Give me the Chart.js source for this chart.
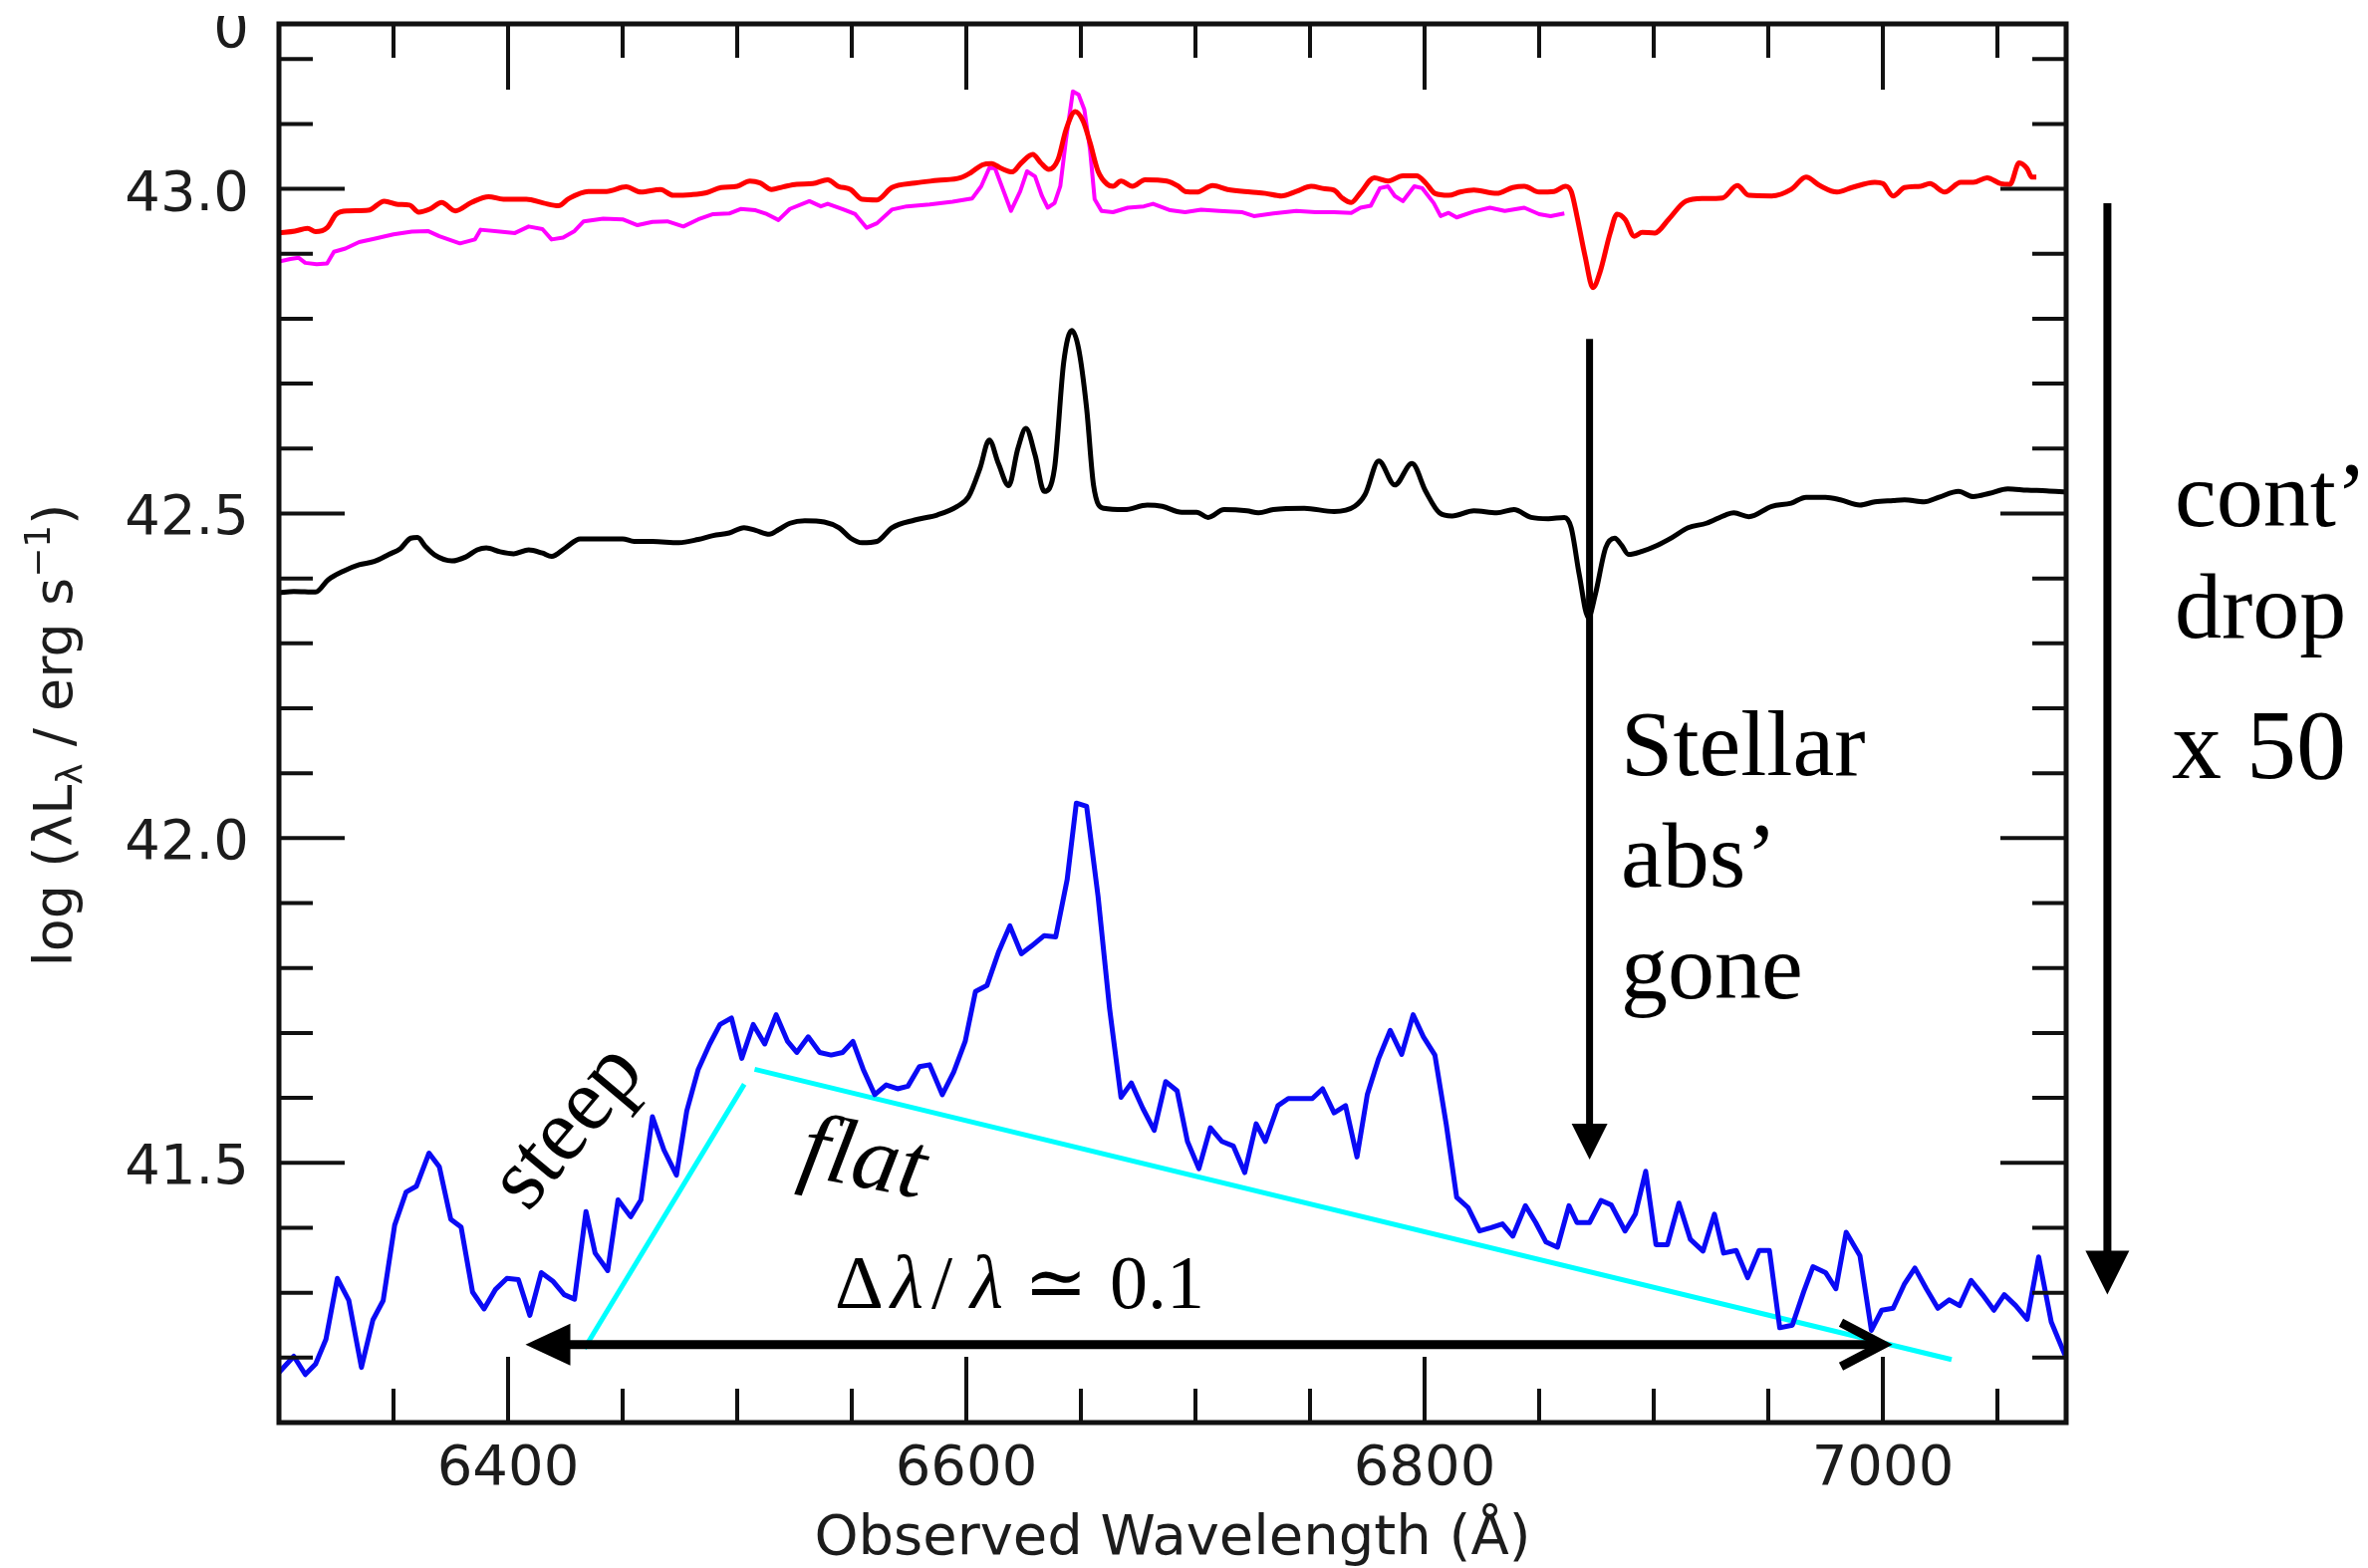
<!DOCTYPE html>
<html>
<head>
<meta charset="utf-8">
<title>Observed spectrum</title>
<script src="https://cdn.jsdelivr.net/npm/chart.js@4.4.1/dist/chart.umd.min.js"></script>
<style>
  html, body { margin: 0; padding: 0; background: #fff; }
  canvas { display: block; }
</style>
</head>
<body>
<canvas id="spectrum" width="2377" height="1574"></canvas>
<script>
// high state spectrum (red)
const redWave = [6300, 6307, 6312.5, 6316, 6321, 6325, 6330, 6339, 6346, 6352, 6357, 6361, 6366, 6371, 6377, 6384, 6391.5, 6398, 6408, 6415.5, 6422, 6426.5, 6435, 6443, 6451.5, 6458, 6466.5, 6472, 6480, 6486.5, 6493, 6500, 6505.5, 6510, 6515, 6520, 6526, 6533, 6539.5, 6544, 6549.5, 6554.5, 6561, 6567.5, 6577.5, 6587.5, 6597.5, 6602, 6607, 6611, 6615, 6620, 6624, 6629, 6632.5, 6636, 6640, 6643.5, 6647.5, 6651, 6654, 6657.5, 6661.5, 6664, 6667.5, 6672.5, 6678, 6687.5, 6692.5, 6695.5, 6700.5, 6707.5, 6714, 6724, 6730.5, 6737.5, 6744, 6750.5, 6756.5, 6760.5, 6764, 6768, 6772, 6778, 6784, 6790.5, 6796.5, 6800.5, 6804.5, 6810.5, 6815.5, 6821.5, 6831.5, 6838.5, 6843.5, 6850, 6856.5, 6861.5, 6864, 6866.5, 6870, 6873.5, 6876.5, 6881, 6884, 6887.5, 6891.5, 6895, 6900.5, 6906.5, 6914, 6921.5, 6930, 6936.5, 6941.5, 6951.5, 6960, 6966.5, 6972.5, 6980, 6986.5, 6996.5, 7000, 7004.5, 7009.5, 7016.5, 7020.5, 7027, 7034, 7039.5, 7045.5, 7051.5, 7055.5, 7059.5, 7063, 7065, 7067];
const redLum = [42.932, 42.935, 42.939, 42.934, 42.940, 42.961, 42.966, 42.967, 42.981, 42.976, 42.975, 42.964, 42.969, 42.979, 42.966, 42.979, 42.988, 42.984, 42.984, 42.978, 42.974, 42.985, 42.996, 42.996, 43.003, 42.995, 42.999, 42.990, 42.991, 42.994, 43.002, 43.004, 43.012, 43.009, 42.999, 43.003, 43.007, 43.008, 43.014, 43.004, 42.999, 42.984, 42.983, 43.002, 43.009, 43.013, 43.017, 43.025, 43.037, 43.039, 43.032, 43.026, 43.040, 43.053, 43.040, 43.030, 43.045, 43.091, 43.119, 43.104, 43.071, 43.027, 43.007, 43.004, 43.012, 43.004, 43.014, 43.012, 43.004, 42.996, 42.995, 43.005, 42.999, 42.995, 42.993, 42.989, 42.996, 43.004, 43.000, 42.998, 42.986, 42.979, 42.994, 43.017, 43.012, 43.020, 43.020, 43.009, 42.993, 42.990, 42.995, 42.998, 42.993, 43.002, 43.004, 42.995, 42.996, 43.004, 42.996, 42.958, 42.897, 42.848, 42.871, 42.932, 42.961, 42.953, 42.927, 42.933, 42.932, 42.953, 42.981, 42.985, 42.986, 43.005, 42.990, 42.989, 42.999, 43.018, 43.005, 42.995, 43.002, 43.010, 43.008, 42.989, 43.002, 43.004, 43.008, 42.995, 43.010, 43.010, 43.017, 43.008, 43.007, 43.040, 43.031, 43.018, 43.018];

// host galaxy subtracted (magenta)
const magWave = [6300, 6305, 6308.5, 6311.5, 6316.5, 6321, 6324, 6329, 6335, 6341.5, 6350, 6358, 6365, 6370, 6379, 6385.5, 6388, 6396.5, 6403, 6409, 6415, 6419, 6424, 6429, 6433, 6441.5, 6450, 6456.5, 6463, 6469.5, 6476.5, 6483, 6489.5, 6496.5, 6501.5, 6508, 6513, 6518, 6523, 6531.5, 6536.5, 6539.5, 6546.5, 6551.5, 6556.5, 6561, 6567.5, 6574, 6584, 6594, 6602.5, 6606.5, 6610, 6612.5, 6616, 6619.5, 6623.5, 6626.5, 6630, 6633, 6635.5, 6638.5, 6641, 6643.5, 6646.5, 6649, 6651.5, 6654, 6656, 6659, 6664, 6670.5, 6677.5, 6681.5, 6689, 6695.5, 6702.5, 6710.5, 6720.5, 6725.5, 6734, 6744, 6752.5, 6760.5, 6768, 6772, 6776.5, 6780.5, 6784, 6787, 6790.5, 6795.5, 6799, 6804, 6807, 6810.5, 6814, 6821.5, 6828.5, 6835, 6843.5, 6850, 6855, 6861];
const magLum = [42.888, 42.892, 42.894, 42.886, 42.884, 42.885, 42.903, 42.908, 42.918, 42.923, 42.930, 42.934, 42.935, 42.927, 42.916, 42.922, 42.937, 42.934, 42.932, 42.942, 42.938, 42.922, 42.925, 42.935, 42.950, 42.954, 42.953, 42.944, 42.949, 42.950, 42.942, 42.953, 42.961, 42.962, 42.969, 42.967, 42.961, 42.952, 42.969, 42.981, 42.973, 42.977, 42.968, 42.961, 42.940, 42.947, 42.968, 42.973, 42.976, 42.980, 42.985, 43.004, 43.032, 43.032, 42.999, 42.966, 42.996, 43.027, 43.019, 42.989, 42.971, 42.978, 43.004, 43.076, 43.150, 43.145, 43.122, 43.060, 42.984, 42.966, 42.964, 42.971, 42.973, 42.977, 42.967, 42.964, 42.968, 42.966, 42.964, 42.958, 42.962, 42.966, 42.964, 42.964, 42.963, 42.971, 42.974, 43.001, 43.004, 42.989, 42.981, 43.004, 43.001, 42.978, 42.958, 42.963, 42.956, 42.965, 42.971, 42.966, 42.971, 42.961, 42.958, 42.962];

// intermediate state (black)
const blackWave = [6300, 6306.5, 6316, 6321.5, 6328, 6335, 6341.5, 6348, 6353, 6357.5, 6360.5, 6364, 6368, 6375.5, 6381.5, 6386.5, 6390.5, 6396.5, 6402.5, 6409, 6415, 6419, 6425, 6431.5, 6440, 6450, 6455, 6463, 6474.5, 6483, 6489.5, 6496.5, 6503, 6508, 6514, 6518, 6523, 6529.5, 6538, 6544.5, 6549.5, 6554.5, 6561, 6567.5, 6577.5, 6587.5, 6596, 6601, 6606, 6610, 6614, 6618.5, 6622.5, 6626, 6630, 6634, 6638.5, 6642.5, 6646, 6649, 6652.5, 6655.5, 6660, 6669, 6679, 6685.5, 6694, 6700.5, 6705.5, 6712.5, 6722.5, 6727.5, 6734, 6747.5, 6760.5, 6769.5, 6774, 6780, 6787, 6794.5, 6800.5, 6806.5, 6812, 6821.5, 6831.5, 6839, 6846.5, 6854, 6861, 6864, 6867.5, 6871.5, 6874.5, 6879, 6883, 6886, 6889, 6895, 6901.5, 6908, 6915, 6923, 6931.5, 6935, 6941.5, 6951.5, 6960, 6966.5, 6975, 6981.5, 6990, 6996.5, 7004.5, 7009.5, 7018, 7024.5, 7033, 7039.5, 7046.5, 7054.5, 7063, 7071.5, 7080];
const blackLum = [42.378, 42.380, 42.379, 42.398, 42.411, 42.421, 42.426, 42.437, 42.446, 42.462, 42.463, 42.449, 42.436, 42.427, 42.433, 42.444, 42.447, 42.441, 42.438, 42.444, 42.439, 42.434, 42.447, 42.461, 42.461, 42.461, 42.457, 42.457, 42.455, 42.460, 42.466, 42.470, 42.478, 42.474, 42.468, 42.475, 42.485, 42.489, 42.487, 42.478, 42.462, 42.455, 42.457, 42.478, 42.490, 42.498, 42.511, 42.526, 42.570, 42.613, 42.577, 42.543, 42.600, 42.631, 42.590, 42.534, 42.570, 42.733, 42.782, 42.754, 42.662, 42.544, 42.508, 42.506, 42.513, 42.511, 42.502, 42.502, 42.494, 42.506, 42.504, 42.501, 42.506, 42.508, 42.503, 42.511, 42.529, 42.581, 42.544, 42.577, 42.534, 42.501, 42.496, 42.504, 42.501, 42.506, 42.494, 42.492, 42.494, 42.478, 42.406, 42.340, 42.375, 42.447, 42.462, 42.451, 42.437, 42.442, 42.451, 42.463, 42.478, 42.485, 42.498, 42.501, 42.495, 42.511, 42.516, 42.525, 42.525, 42.521, 42.513, 42.518, 42.520, 42.521, 42.518, 42.525, 42.534, 42.526, 42.531, 42.538, 42.536, 42.535, 42.533];

// low state (blue)
const blueWave = [6300, 6306.5, 6311.5, 6316, 6320.5, 6325.5, 6330.5, 6336, 6341, 6345.5, 6350.5, 6355.5, 6360, 6365.5, 6370, 6375, 6379.5, 6384.5, 6389.5, 6394.5, 6399.5, 6404.5, 6409.5, 6414.5, 6419.5, 6424.5, 6429, 6434, 6438, 6443.5, 6448, 6453.5, 6458, 6463, 6468, 6473.5, 6478, 6483, 6488, 6492.5, 6497.5, 6502, 6507, 6512, 6517, 6522, 6526, 6531, 6536, 6541, 6546, 6550.5, 6555, 6560, 6565, 6570, 6574.5, 6579.5, 6584, 6589.5, 6594.5, 6599.5, 6604, 6609, 6614, 6619, 6624, 6628.5, 6634, 6639, 6644, 6648, 6652.5, 6657.5, 6662.5, 6667.5, 6672, 6677, 6682, 6687, 6692, 6696.5, 6701.5, 6706.5, 6711.5, 6716.5, 6721.5, 6726.5, 6730.5, 6736, 6740.5, 6746, 6751, 6755.5, 6760.5, 6765.5, 6770.5, 6775, 6780, 6785, 6790, 6795, 6799.5, 6804.5, 6809.5, 6814, 6819, 6824, 6829, 6834, 6838.5, 6844, 6848.5, 6853, 6858, 6863, 6866.5, 6872, 6877, 6881.5, 6887.5, 6892, 6896.5, 6901, 6906, 6911, 6916, 6921.5, 6926.5, 6930.5, 6936, 6941, 6946, 6950.5, 6955, 6960.5, 6965.5, 6969.5, 6975, 6979.5, 6984, 6990, 6995, 6999.5, 7004.5, 7009.5, 7014, 7019, 7024, 7029, 7033.5, 7038.5, 7043.5, 7048.5, 7053, 7058, 7063, 7068, 7073.5, 7079.5];
const blueLum = [41.177, 41.202, 41.174, 41.190, 41.228, 41.322, 41.288, 41.185, 41.258, 41.288, 41.404, 41.455, 41.464, 41.515, 41.494, 41.413, 41.401, 41.301, 41.275, 41.305, 41.322, 41.320, 41.265, 41.331, 41.318, 41.297, 41.290, 41.425, 41.361, 41.334, 41.443, 41.417, 41.443, 41.571, 41.520, 41.481, 41.580, 41.644, 41.683, 41.713, 41.723, 41.661, 41.713, 41.683, 41.728, 41.687, 41.670, 41.694, 41.670, 41.666, 41.670, 41.687, 41.644, 41.605, 41.620, 41.614, 41.618, 41.648, 41.651, 41.605, 41.640, 41.687, 41.764, 41.773, 41.824, 41.865, 41.822, 41.834, 41.850, 41.848, 41.936, 42.054, 42.049, 41.910, 41.738, 41.601, 41.623, 41.584, 41.550, 41.625, 41.611, 41.533, 41.491, 41.554, 41.533, 41.526, 41.485, 41.560, 41.533, 41.588, 41.599, 41.599, 41.599, 41.614, 41.577, 41.588, 41.509, 41.605, 41.661, 41.704, 41.667, 41.728, 41.694, 41.666, 41.558, 41.447, 41.431, 41.395, 41.400, 41.406, 41.387, 41.434, 41.408, 41.378, 41.370, 41.434, 41.408, 41.408, 41.442, 41.435, 41.395, 41.421, 41.487, 41.374, 41.374, 41.438, 41.382, 41.364, 41.421, 41.361, 41.365, 41.323, 41.365, 41.365, 41.246, 41.250, 41.302, 41.340, 41.331, 41.306, 41.393, 41.357, 41.242, 41.273, 41.276, 41.314, 41.338, 41.306, 41.276, 41.289, 41.280, 41.319, 41.297, 41.273, 41.297, 41.280, 41.259, 41.355, 41.255, 41.204];

// continuum slope guides (cyan)
const steepWave = [6433.3, 6503.1];
const steepLum = [41.214, 41.621];
const flatWave = [6507.6, 7030];
const flatLum = [41.644, 41.197];

// axis ticks
const xRange = [6300, 7080];
const yRange = [41.1, 43.254];
const xTickLabels = [6400, 6600, 6800, 7000];
const yTickLabels = ['41.5', '42.0', '42.5', '43.0'];
const xMinorStep = 50;
const yMinorStep = 0.1;

const SANS = '"DejaVu Sans", "Bitstream Vera Sans", Verdana, sans-serif';
const SERIF = '"Liberation Serif", "Times New Roman", "DejaVu Serif", serif';

function toPoints(wave, lum) {
  return wave.map((w, i) => ({ x: w, y: lum[i] }));
}

function series(wave, lum, color, width, smooth) {
  return {
    data: toPoints(wave, lum),
    borderColor: color,
    borderWidth: width,
    pointRadius: 0,
    fill: false,
    cubicInterpolationMode: smooth ? 'monotone' : 'default',
    tension: 0,
    borderJoinStyle: 'round',
    borderCapStyle: 'butt'
  };
}

// frame with inward ticks on all four sides, plus tick labels and axis titles
const frame = {
  id: 'frame',
  afterDatasetsDraw(chart) {
    const { ctx, chartArea: a, scales: { x, y } } = chart;
    ctx.save();
    ctx.strokeStyle = '#111';
    ctx.lineWidth = 4;
    const seg = (x0, y0, x1, y1) => {
      ctx.beginPath(); ctx.moveTo(x0, y0); ctx.lineTo(x1, y1); ctx.stroke();
    };

    for (let v = xRange[0] + xMinorStep; v < xRange[1]; v += xMinorStep) {
      const px = x.getPixelForValue(v);
      const len = xTickLabels.includes(v) ? 66 : 34;
      seg(px, a.top, px, a.top + len);
      seg(px, a.bottom, px, a.bottom - len);
    }
    for (let k = 1; 41.1 + k * yMinorStep < yRange[1]; k++) {
      const v = 41.1 + k * yMinorStep;
      const py = y.getPixelForValue(v);
      const len = yTickLabels.includes(v.toFixed(1)) ? 66 : 34;
      seg(a.left, py, a.left + len, py);
      seg(a.right, py, a.right - len, py);
    }

    ctx.lineWidth = 5;
    ctx.strokeRect(a.left, a.top, a.right - a.left, a.bottom - a.top);

    // tick labels
    ctx.fillStyle = '#1c1c1c';
    ctx.font = '56px ' + SANS;
    ctx.textAlign = 'right';
    ctx.textBaseline = 'alphabetic';
    yTickLabels.forEach(t => {
      ctx.fillText(t, a.left - 30, y.getPixelForValue(parseFloat(t)) + 21);
    });
    // label of the panel above, cut off by the page edge
    ctx.save();
    ctx.beginPath();
    ctx.rect(0, 16, a.left, 60);
    ctx.clip();
    ctx.fillText('0', a.left - 30, 47);
    ctx.restore();

    ctx.textAlign = 'center';
    xTickLabels.forEach(t => {
      ctx.fillText(String(t), x.getPixelForValue(t), a.bottom + 62);
    });

    // x title
    ctx.font = '56px ' + SANS;
    ctx.fillText('Observed Wavelength (Å)', (a.left + a.right) / 2, a.bottom + 132);

    // y title, rotated
    const parts = [
      { t: 'log (λL', size: 54, dy: 0 },
      { t: 'λ', size: 36, dy: 10 },
      { t: ' / erg s', size: 54, dy: 0 },
      { t: '−1', size: 36, dy: -22 },
      { t: ')', size: 54, dy: 0 }
    ];
    let total = 0;
    parts.forEach(p => { ctx.font = p.size + 'px ' + SANS; p.w = ctx.measureText(p.t).width; total += p.w; });
    ctx.translate(72, (a.top + a.bottom) / 2 + 12);
    ctx.rotate(-Math.PI / 2);
    ctx.textAlign = 'left';
    let cx = -total / 2;
    parts.forEach(p => {
      ctx.font = p.size + 'px ' + SANS;
      ctx.fillText(p.t, cx, p.dy);
      cx += p.w;
    });
    ctx.restore();
  }
};

function downArrow(ctx, top, tip, shaft, headLen, headHalf) {
  ctx.lineWidth = shaft;
  ctx.beginPath();
  ctx.moveTo(top[0], top[1]);
  ctx.lineTo(tip[0], tip[1] - headLen + 2);
  ctx.stroke();
  ctx.beginPath();
  ctx.moveTo(tip[0], tip[1]);
  ctx.lineTo(tip[0] - headHalf, tip[1] - headLen);
  ctx.lineTo(tip[0] + headHalf, tip[1] - headLen);
  ctx.closePath();
  ctx.fill();
}

// arrows and hand-written style notes
const notes = {
  id: 'notes',
  afterDraw(chart) {
    const { ctx, scales: { x, y } } = chart;
    const P = (w, l) => [x.getPixelForValue(w), y.getPixelForValue(l)];
    ctx.save();
    ctx.fillStyle = '#000';
    ctx.strokeStyle = '#000';
    ctx.lineCap = 'butt';

    // stellar absorption marker
    downArrow(ctx, P(6872, 42.769), P(6872, 41.505), 7, 36, 18);
    // continuum drop marker, outside the frame
    downArrow(ctx, P(7098, 42.978), P(7098, 41.297), 8, 44, 22);

    // wavelength span arrow
    const L = P(6407.6, 41.22), R = P(7000, 41.22);
    ctx.lineWidth = 9;
    ctx.beginPath();
    ctx.moveTo(L[0] + 40, L[1]);
    ctx.lineTo(R[0] - 4, R[1]);
    ctx.stroke();
    ctx.beginPath();
    ctx.moveTo(L[0], L[1]);
    ctx.lineTo(L[0] + 45, L[1] - 21);
    ctx.lineTo(L[0] + 45, L[1] + 21);
    ctx.closePath();
    ctx.fill();
    ctx.lineJoin = 'miter';
    ctx.beginPath();
    ctx.moveTo(R[0] - 42, R[1] - 22);
    ctx.lineTo(R[0], R[1]);
    ctx.lineTo(R[0] - 42, R[1] + 22);
    ctx.stroke();

    ctx.textAlign = 'left';
    ctx.textBaseline = 'alphabetic';
    ctx.font = '94px ' + SERIF;
    const s1 = P(6885.7, 42.097), s2 = P(6885.7, 41.926), s3 = P(6885.7, 41.754);
    ctx.fillText('Stellar', s1[0], s1[1]);
    ctx.fillText('abs’', s2[0], s2[1]);
    ctx.fillText('gone', s3[0], s3[1]);

    const c1 = P(7127.4, 42.481), c2 = P(7127.4, 42.309), c3 = P(7126.1, 42.093);
    ctx.fillText('cont’', c1[0], c1[1]);
    ctx.fillText('drop', c2[0], c2[1]);
    ctx.font = '100px ' + SERIF;
    ctx.fillText('x 50', c3[0], c3[1]);

    // slope labels
    const st = P(6426.5, 41.554);
    ctx.save();
    ctx.translate(st[0], st[1]);
    ctx.rotate(-50 * Math.PI / 180);
    ctx.textAlign = 'center';
    ctx.textBaseline = 'middle';
    ctx.font = '90px ' + SERIF;
    ctx.fillText('steep', 0, 0);
    ctx.restore();

    const fl = P(6526.1, 41.482);
    ctx.save();
    ctx.translate(fl[0], fl[1]);
    ctx.rotate(11 * Math.PI / 180);
    ctx.font = 'italic 94px ' + SERIF;
    ctx.fillText('flat', 0, 0);
    ctx.restore();

    // resolution note: Δλ/λ ≃ 0.1
    const d = P(6542.6, 41.277);
    const pieces = [
      { t: 'Δ', dx: 0, it: false },
      { t: 'λ', dx: 56, it: true },
      { t: '/', dx: 97, it: false },
      { t: 'λ', dx: 136, it: true },
      { t: '≃', dx: 190, it: false },
      { t: '0.1', dx: 276, it: false }
    ];
    pieces.forEach(p => {
      ctx.font = (p.it ? 'italic ' : '') + '76px ' + SERIF;
      ctx.fillText(p.t, d[0] + p.dx, d[1]);
    });
    ctx.restore();
  }
};

new Chart(document.getElementById('spectrum'), {
  type: 'line',
  data: {
    datasets: [
      series(redWave, redLum, '#ff0000', 5, true),
      series(magWave, magLum, '#ff00ff', 4, false),
      series(blackWave, blackLum, '#000000', 5, true),
      series(blueWave, blueLum, '#0a0af5', 5, false),
      series(steepWave, steepLum, '#00ffff', 5, false),
      series(flatWave, flatLum, '#00ffff', 5, false)
    ]
  },
  options: {
    responsive: false,
    animation: false,
    events: [],
    layout: { padding: { left: 280, right: 303, top: 24, bottom: 146 } },
    scales: {
      x: { type: 'linear', min: xRange[0], max: xRange[1], display: false },
      y: { type: 'linear', min: yRange[0], max: yRange[1], display: false }
    },
    plugins: { legend: { display: false }, tooltip: { enabled: false } }
  },
  plugins: [frame, notes]
});
</script>
</body>
</html>
